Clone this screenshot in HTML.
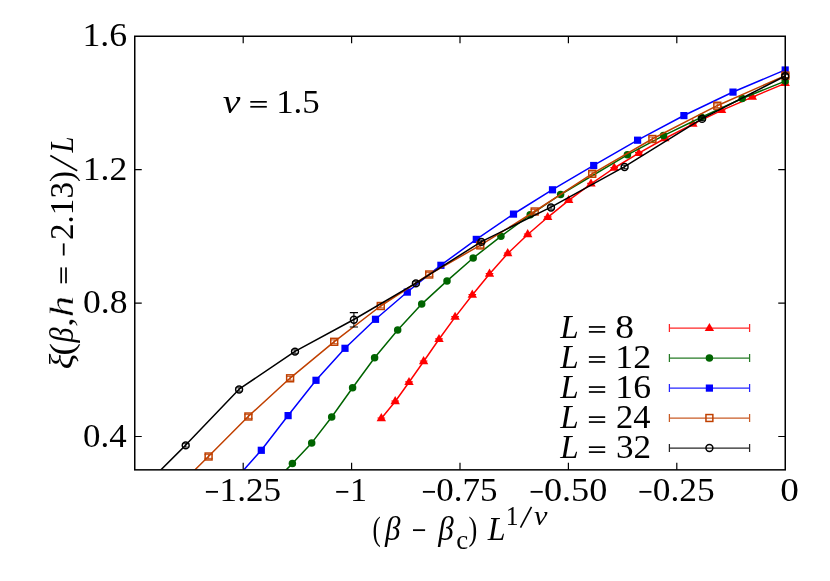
<!DOCTYPE html>
<html><head><meta charset="utf-8"><title>Finite-size scaling</title>
<style>
html,body{margin:0;padding:0;background:#fff;}
svg{display:block;}
text{font-family:"Liberation Serif",serif;fill:#000;}
.i{font-style:italic;}
</style></head><body>
<svg width="830" height="581" viewBox="0 0 830 581">
<rect x="0" y="0" width="830" height="581" fill="#ffffff"/>
<defs><clipPath id="plot"><rect x="134.75" y="36.25" width="656.5" height="433.6"/></clipPath></defs>
<path d="M676.8,469.85 v-7 M676.8,36.25 v7 M568.4,469.85 v-7 M568.4,36.25 v7 M460.0,469.85 v-7 M460.0,36.25 v7 M351.6,469.85 v-7 M351.6,36.25 v7 M243.2,469.85 v-7 M243.2,36.25 v7 M134.75,436.5 h7 M785.25,436.5 h-7 M134.75,303.1 h7 M785.25,303.1 h-7 M134.75,169.7 h7 M785.25,169.7 h-7" stroke="#000" stroke-width="1.2" fill="none"/>
<g clip-path="url(#plot)">
<polyline points="381.3,418.5 395.2,401.5 409.0,382.3 423.6,361.5 439.0,339.3 455.1,317.1 472.3,295.0 489.5,274.0 507.7,253.5 527.7,234.5 547.7,217.3 568.7,200.3 591.0,183.9 614.2,168.0 638.8,153.2 664.8,138.5 692.9,124.1 721.6,110.4 752.3,97.1 785.2,83.4" fill="none" stroke="#ff0000" stroke-width="1.5" stroke-linejoin="round"/>
<path d="M376.6,421.2 L386.0,421.2 L381.3,413.1 Z" fill="#ff0000"/><path d="M377.5,418.0 h7.6" stroke="#ff0000" stroke-width="1.2" fill="none"/>
<path d="M390.5,404.2 L399.9,404.2 L395.2,396.1 Z" fill="#ff0000"/><path d="M391.4,401.0 h7.6" stroke="#ff0000" stroke-width="1.2" fill="none"/>
<path d="M404.3,385.0 L413.7,385.0 L409.0,376.9 Z" fill="#ff0000"/><path d="M405.2,381.8 h7.6" stroke="#ff0000" stroke-width="1.2" fill="none"/>
<path d="M418.9,364.2 L428.3,364.2 L423.6,356.1 Z" fill="#ff0000"/><path d="M419.8,361.0 h7.6" stroke="#ff0000" stroke-width="1.2" fill="none"/>
<path d="M434.3,342.0 L443.7,342.0 L439.0,333.9 Z" fill="#ff0000"/><path d="M435.2,338.8 h7.6" stroke="#ff0000" stroke-width="1.2" fill="none"/>
<path d="M450.4,319.8 L459.8,319.8 L455.1,311.7 Z" fill="#ff0000"/><path d="M451.3,316.6 h7.6" stroke="#ff0000" stroke-width="1.2" fill="none"/>
<path d="M467.6,297.7 L477.0,297.7 L472.3,289.6 Z" fill="#ff0000"/><path d="M468.5,294.5 h7.6" stroke="#ff0000" stroke-width="1.2" fill="none"/>
<path d="M484.8,276.7 L494.2,276.7 L489.5,268.6 Z" fill="#ff0000"/><path d="M485.7,273.5 h7.6" stroke="#ff0000" stroke-width="1.2" fill="none"/>
<path d="M503.0,256.2 L512.4,256.2 L507.7,248.1 Z" fill="#ff0000"/><path d="M503.9,253.0 h7.6" stroke="#ff0000" stroke-width="1.2" fill="none"/>
<path d="M523.0,237.2 L532.4,237.2 L527.7,229.1 Z" fill="#ff0000"/><path d="M523.9,234.0 h7.6" stroke="#ff0000" stroke-width="1.2" fill="none"/>
<path d="M543.0,220.0 L552.4,220.0 L547.7,211.9 Z" fill="#ff0000"/><path d="M543.9,216.8 h7.6" stroke="#ff0000" stroke-width="1.2" fill="none"/>
<path d="M564.0,203.0 L573.4,203.0 L568.7,194.9 Z" fill="#ff0000"/><path d="M564.9,199.8 h7.6" stroke="#ff0000" stroke-width="1.2" fill="none"/>
<path d="M586.3,186.6 L595.7,186.6 L591.0,178.5 Z" fill="#ff0000"/><path d="M587.2,183.4 h7.6" stroke="#ff0000" stroke-width="1.2" fill="none"/>
<path d="M609.5,170.7 L618.9,170.7 L614.2,162.6 Z" fill="#ff0000"/><path d="M610.4,167.5 h7.6" stroke="#ff0000" stroke-width="1.2" fill="none"/>
<path d="M634.1,155.9 L643.5,155.9 L638.8,147.8 Z" fill="#ff0000"/><path d="M635.0,152.7 h7.6" stroke="#ff0000" stroke-width="1.2" fill="none"/>
<path d="M660.1,141.2 L669.5,141.2 L664.8,133.1 Z" fill="#ff0000"/><path d="M661.0,138.0 h7.6" stroke="#ff0000" stroke-width="1.2" fill="none"/>
<path d="M688.2,126.8 L697.6,126.8 L692.9,118.7 Z" fill="#ff0000"/><path d="M689.1,123.6 h7.6" stroke="#ff0000" stroke-width="1.2" fill="none"/>
<path d="M716.9,113.1 L726.3,113.1 L721.6,105.0 Z" fill="#ff0000"/><path d="M717.8,109.9 h7.6" stroke="#ff0000" stroke-width="1.2" fill="none"/>
<path d="M747.6,99.8 L757.0,99.8 L752.3,91.7 Z" fill="#ff0000"/><path d="M748.5,96.6 h7.6" stroke="#ff0000" stroke-width="1.2" fill="none"/>
<path d="M780.5,86.1 L789.9,86.1 L785.2,78.0 Z" fill="#ff0000"/><path d="M781.4,82.9 h7.6" stroke="#ff0000" stroke-width="1.2" fill="none"/>
<polyline points="275.0,481.0 292.4,463.6 311.7,442.9 331.7,417.0 352.6,387.7 374.6,357.8 397.7,330.0 421.7,304.1 447.0,280.9 473.2,258.0 500.9,236.3 530.2,214.8 560.6,194.5 627.4,154.8 663.5,135.6 701.5,117.2 742.2,98.5 785.2,81.1" fill="none" stroke="#006400" stroke-width="1.5" stroke-linejoin="round"/>
<circle cx="292.4" cy="463.6" r="3.75" fill="#006400"/>
<circle cx="311.7" cy="442.9" r="3.75" fill="#006400"/>
<circle cx="331.7" cy="417.0" r="3.75" fill="#006400"/>
<circle cx="352.6" cy="387.7" r="3.75" fill="#006400"/>
<circle cx="374.6" cy="357.8" r="3.75" fill="#006400"/>
<circle cx="397.7" cy="330.0" r="3.75" fill="#006400"/>
<circle cx="421.7" cy="304.1" r="3.75" fill="#006400"/>
<circle cx="447.0" cy="280.9" r="3.75" fill="#006400"/>
<circle cx="473.2" cy="258.0" r="3.75" fill="#006400"/>
<circle cx="500.9" cy="236.3" r="3.75" fill="#006400"/>
<circle cx="530.2" cy="214.8" r="3.75" fill="#006400"/>
<circle cx="560.6" cy="194.5" r="3.75" fill="#006400"/>
<circle cx="627.4" cy="154.8" r="3.75" fill="#006400"/>
<circle cx="663.5" cy="135.6" r="3.75" fill="#006400"/>
<circle cx="701.5" cy="117.2" r="3.75" fill="#006400"/>
<circle cx="742.2" cy="98.5" r="3.75" fill="#006400"/>
<circle cx="785.2" cy="81.1" r="3.75" fill="#006400"/>
<polyline points="235.0,479.8 261.3,450.2 288.1,415.5 316.0,380.2 345.0,348.2 375.5,319.2 407.3,292.0 440.9,265.2 476.3,239.3 513.5,214.0 552.5,189.7 593.7,165.4 637.6,140.1 683.9,115.5 733.0,92.0 785.2,69.9" fill="none" stroke="#0000ff" stroke-width="1.5" stroke-linejoin="round"/>
<rect x="257.7" y="446.7" width="7.2" height="7.2" fill="#0000ff"/>
<rect x="284.5" y="412.0" width="7.2" height="7.2" fill="#0000ff"/>
<rect x="312.4" y="376.7" width="7.2" height="7.2" fill="#0000ff"/>
<rect x="341.4" y="344.7" width="7.2" height="7.2" fill="#0000ff"/>
<rect x="371.9" y="315.7" width="7.2" height="7.2" fill="#0000ff"/>
<rect x="403.7" y="288.5" width="7.2" height="7.2" fill="#0000ff"/>
<rect x="437.3" y="261.7" width="7.2" height="7.2" fill="#0000ff"/>
<rect x="472.7" y="235.8" width="7.2" height="7.2" fill="#0000ff"/>
<rect x="509.9" y="210.5" width="7.2" height="7.2" fill="#0000ff"/>
<rect x="548.9" y="186.2" width="7.2" height="7.2" fill="#0000ff"/>
<rect x="590.1" y="161.9" width="7.2" height="7.2" fill="#0000ff"/>
<rect x="634.0" y="136.6" width="7.2" height="7.2" fill="#0000ff"/>
<rect x="680.3" y="112.0" width="7.2" height="7.2" fill="#0000ff"/>
<rect x="729.4" y="88.5" width="7.2" height="7.2" fill="#0000ff"/>
<rect x="781.6" y="66.4" width="7.2" height="7.2" fill="#0000ff"/>
<polyline points="170.0,494.6 208.4,456.5 248.2,416.5 289.9,378.3 334.0,341.8 380.6,306.0 429.0,274.5 480.1,245.4 534.5,211.5 592.0,173.8 652.2,139.0 717.1,105.7 785.2,75.6" fill="none" stroke="#c04000" stroke-width="1.5" stroke-linejoin="round"/>
<rect x="205.15" y="453.05" width="6.9" height="6.9" fill="none" stroke="#c04000" stroke-width="1.5"/><path d="M208.6,454.5 v4 M204.5,454.6 h8.2 M204.5,458.4 h8.2" stroke="#c04000" stroke-width="1" fill="none" opacity="0.85"/>
<rect x="244.95" y="413.05" width="6.9" height="6.9" fill="none" stroke="#c04000" stroke-width="1.5"/><path d="M248.4,414.5 v4 M244.3,414.6 h8.2 M244.3,418.4 h8.2" stroke="#c04000" stroke-width="1" fill="none" opacity="0.85"/>
<rect x="286.65" y="374.85" width="6.9" height="6.9" fill="none" stroke="#c04000" stroke-width="1.5"/><path d="M290.1,376.3 v4 M286.0,376.4 h8.2 M286.0,380.2 h8.2" stroke="#c04000" stroke-width="1" fill="none" opacity="0.85"/>
<rect x="330.75" y="338.35" width="6.9" height="6.9" fill="none" stroke="#c04000" stroke-width="1.5"/><path d="M334.2,339.8 v4 M330.1,339.9 h8.2 M330.1,343.7 h8.2" stroke="#c04000" stroke-width="1" fill="none" opacity="0.85"/>
<rect x="377.35" y="302.55" width="6.9" height="6.9" fill="none" stroke="#c04000" stroke-width="1.5"/><path d="M380.8,304.0 v4 M376.7,304.1 h8.2 M376.7,307.9 h8.2" stroke="#c04000" stroke-width="1" fill="none" opacity="0.85"/>
<rect x="425.75" y="271.05" width="6.9" height="6.9" fill="none" stroke="#c04000" stroke-width="1.5"/><path d="M429.2,272.5 v4 M425.1,272.6 h8.2 M425.1,276.4 h8.2" stroke="#c04000" stroke-width="1" fill="none" opacity="0.85"/>
<rect x="476.85" y="241.95" width="6.9" height="6.9" fill="none" stroke="#c04000" stroke-width="1.5"/><path d="M480.3,243.4 v4 M476.2,243.5 h8.2 M476.2,247.3 h8.2" stroke="#c04000" stroke-width="1" fill="none" opacity="0.85"/>
<rect x="531.25" y="208.05" width="6.9" height="6.9" fill="none" stroke="#c04000" stroke-width="1.5"/><path d="M534.7,209.5 v4 M530.6,209.6 h8.2 M530.6,213.4 h8.2" stroke="#c04000" stroke-width="1" fill="none" opacity="0.85"/>
<rect x="588.75" y="170.35" width="6.9" height="6.9" fill="none" stroke="#c04000" stroke-width="1.5"/><path d="M592.2,171.8 v4 M588.1,171.9 h8.2 M588.1,175.7 h8.2" stroke="#c04000" stroke-width="1" fill="none" opacity="0.85"/>
<rect x="648.95" y="135.55" width="6.9" height="6.9" fill="none" stroke="#c04000" stroke-width="1.5"/><path d="M652.4,137.0 v4 M648.3,137.1 h8.2 M648.3,140.9 h8.2" stroke="#c04000" stroke-width="1" fill="none" opacity="0.85"/>
<rect x="713.85" y="102.25" width="6.9" height="6.9" fill="none" stroke="#c04000" stroke-width="1.5"/><path d="M717.3,103.7 v4 M713.2,103.8 h8.2 M713.2,107.6 h8.2" stroke="#c04000" stroke-width="1" fill="none" opacity="0.85"/>
<rect x="781.95" y="72.15" width="6.9" height="6.9" fill="none" stroke="#c04000" stroke-width="1.5"/><path d="M785.4,73.6 v4 M781.3,73.7 h8.2 M781.3,77.5 h8.2" stroke="#c04000" stroke-width="1" fill="none" opacity="0.85"/>
<polyline points="134.7,496.0 185.7,445.1 239.1,389.2 295.0,351.3 353.9,319.5 415.9,283.1 481.4,241.6 551.0,207.2 624.6,166.7 702.1,118.6 785.2,76.0" fill="none" stroke="#000000" stroke-width="1.5" stroke-linejoin="round"/>
<circle cx="185.7" cy="445.4" r="3.45" fill="none" stroke="#000000" stroke-width="1.5"/><path d="M185.7,443.6 v3.6 M182.1,443.7 h7.2 M182.1,447.1 h7.2" stroke="#000000" stroke-width="1" fill="none" opacity="0.85"/>
<circle cx="239.1" cy="389.5" r="3.45" fill="none" stroke="#000000" stroke-width="1.5"/><path d="M239.1,387.7 v3.6 M235.5,387.8 h7.2 M235.5,391.2 h7.2" stroke="#000000" stroke-width="1" fill="none" opacity="0.85"/>
<circle cx="295.0" cy="351.6" r="3.45" fill="none" stroke="#000000" stroke-width="1.5"/><path d="M295.0,349.8 v3.6 M291.4,349.9 h7.2 M291.4,353.3 h7.2" stroke="#000000" stroke-width="1" fill="none" opacity="0.85"/>
<circle cx="353.9" cy="319.8" r="3.45" fill="none" stroke="#000000" stroke-width="1.5"/><path d="M353.9,312.6 V327.0 M349.8,312.6 h8.2 M349.8,327.0 h8.2" stroke="#000000" stroke-width="1.1" fill="none"/>
<circle cx="415.9" cy="283.4" r="3.45" fill="none" stroke="#000000" stroke-width="1.5"/><path d="M415.9,281.6 v3.6 M412.3,281.7 h7.2 M412.3,285.1 h7.2" stroke="#000000" stroke-width="1" fill="none" opacity="0.85"/>
<circle cx="481.4" cy="241.9" r="3.45" fill="none" stroke="#000000" stroke-width="1.5"/><path d="M481.4,240.1 v3.6 M477.8,240.2 h7.2 M477.8,243.6 h7.2" stroke="#000000" stroke-width="1" fill="none" opacity="0.85"/>
<circle cx="551.0" cy="207.5" r="3.45" fill="none" stroke="#000000" stroke-width="1.5"/><path d="M551.0,205.7 v3.6 M547.4,205.8 h7.2 M547.4,209.2 h7.2" stroke="#000000" stroke-width="1" fill="none" opacity="0.85"/>
<circle cx="624.6" cy="167.0" r="3.45" fill="none" stroke="#000000" stroke-width="1.5"/><path d="M624.6,165.2 v3.6 M621.0,165.3 h7.2 M621.0,168.7 h7.2" stroke="#000000" stroke-width="1" fill="none" opacity="0.85"/>
<circle cx="702.1" cy="118.9" r="3.45" fill="none" stroke="#000000" stroke-width="1.5"/><path d="M702.1,117.1 v3.6 M698.5,117.2 h7.2 M698.5,120.6 h7.2" stroke="#000000" stroke-width="1" fill="none" opacity="0.85"/>
<circle cx="785.2" cy="76.3" r="3.45" fill="none" stroke="#000000" stroke-width="1.5"/><path d="M785.2,74.5 v3.6 M781.6,74.6 h7.2 M781.6,78.0 h7.2" stroke="#000000" stroke-width="1" fill="none" opacity="0.85"/>
</g>
<rect x="134.75" y="36.25" width="650.5" height="433.6" fill="none" stroke="#000" stroke-width="1.5"/>
<g opacity="0.999">
<text transform="translate(82.45,46.20) scale(1.085,1)" font-size="33">1.6</text>
<text transform="translate(82.76,180.07) scale(1.079,1)" font-size="33">1.2</text>
<text transform="translate(82.95,313.48) scale(1.079,1)" font-size="33">0.8</text>
<text transform="translate(82.98,446.90) scale(1.058,1)" font-size="33">0.4</text>
<text transform="translate(219.61,501.30) scale(1.064,1)" font-size="33">1.25</text>
<text transform="translate(350.10,501.30) scale(1.035,1)" font-size="33">1</text>
<text transform="translate(436.17,501.30) scale(1.061,1)" font-size="33">0.75</text>
<text transform="translate(543.93,501.30) scale(1.099,1)" font-size="33">0.50</text>
<text transform="translate(652.76,501.30) scale(1.073,1)" font-size="33">0.25</text>
<text transform="translate(780.29,501.30) scale(1.129,1)" font-size="33">0</text>
<text class="i" transform="translate(222.70,112.70) scale(1.207,1)" font-size="33">ν</text>
<text transform="translate(276.13,112.70) scale(1.057,1)" font-size="33">1.5</text>
<text class="i" transform="translate(560.35,337.80) scale(1.006,1)" font-size="33">L</text>
<text transform="translate(615.18,337.80) scale(1.136,1)" font-size="33">8</text>
<text class="i" transform="translate(560.35,367.85) scale(1.006,1)" font-size="33">L</text>
<text transform="translate(615.33,367.85) scale(1.090,1)" font-size="33">12</text>
<text class="i" transform="translate(560.35,397.90) scale(1.006,1)" font-size="33">L</text>
<text transform="translate(615.35,397.90) scale(1.083,1)" font-size="33">16</text>
<text class="i" transform="translate(560.35,427.95) scale(1.006,1)" font-size="33">L</text>
<text transform="translate(616.03,427.95) scale(1.045,1)" font-size="33">24</text>
<text class="i" transform="translate(560.35,458.00) scale(1.006,1)" font-size="33">L</text>
<text transform="translate(616.00,458.00) scale(1.066,1)" font-size="33">32</text>
<text transform="translate(372.57,539.60) scale(0.750,1)" font-size="33">(</text>
<text class="i" transform="translate(384.97,539.60) scale(0.941,1)" font-size="33">β</text>
<text class="i" transform="translate(438.27,539.60) scale(0.941,1)" font-size="33">β</text>
<text transform="translate(456.14,549.00) scale(0.962,1)" font-size="28">c</text>
<text transform="translate(468.40,539.60) scale(0.800,1)" font-size="33">)</text>
<text class="i" transform="translate(487.74,539.60) scale(0.971,1)" font-size="33">L</text>
<text transform="translate(505.63,524.60) scale(0.947,1)" font-size="27">1</text>
<text class="i" transform="translate(533.96,524.80) scale(1.083,1)" font-size="28">ν</text>
<text class="i" transform="translate(73.30,367.80) rotate(-90) translate(-1.36,0) scale(1.090,1)" font-size="33">ξ</text>
<text transform="translate(73.30,367.80) rotate(-90) translate(12.15,0) scale(1.165,1)" font-size="33">(</text>
<text class="i" transform="translate(73.30,367.80) rotate(-90) translate(25.26,0) scale(0.912,1)" font-size="33">β</text>
<text transform="translate(73.30,367.80) rotate(-90) translate(40.33,0) scale(1.300,1)" font-size="33" stroke="#fff" stroke-width="0.3">,</text>
<text class="i" transform="translate(73.30,367.80) rotate(-90) translate(50.44,0) scale(1.300,1)" font-size="33" stroke="#fff" stroke-width="0.3">h</text>
<text transform="translate(73.30,367.80) rotate(-90) translate(127.79,0) scale(1.005,1)" font-size="33">2.13)</text>
<text class="i" transform="translate(73.30,367.80) rotate(-90) translate(215.32,0) scale(0.871,1)" font-size="33">L</text>
</g>
<rect x="205.90" y="490.95" width="12.10" height="1.8" fill="#000"/>
<rect x="336.20" y="490.95" width="12.10" height="1.8" fill="#000"/>
<rect x="422.90" y="490.95" width="12.10" height="1.8" fill="#000"/>
<rect x="530.60" y="490.95" width="12.10" height="1.8" fill="#000"/>
<rect x="639.40" y="490.95" width="12.10" height="1.8" fill="#000"/>
<rect x="250.30" y="101.00" width="16.50" height="1.7" fill="#000"/>
<rect x="250.30" y="105.95" width="16.50" height="1.7" fill="#000"/>
<rect x="588.90" y="326.10" width="16.30" height="1.7" fill="#000"/>
<rect x="588.90" y="331.05" width="16.30" height="1.7" fill="#000"/>
<rect x="588.90" y="356.15" width="16.30" height="1.7" fill="#000"/>
<rect x="588.90" y="361.10" width="16.30" height="1.7" fill="#000"/>
<rect x="588.90" y="386.20" width="16.30" height="1.7" fill="#000"/>
<rect x="588.90" y="391.15" width="16.30" height="1.7" fill="#000"/>
<rect x="588.90" y="416.25" width="16.30" height="1.7" fill="#000"/>
<rect x="588.90" y="421.20" width="16.30" height="1.7" fill="#000"/>
<rect x="588.90" y="446.30" width="16.30" height="1.7" fill="#000"/>
<rect x="588.90" y="451.25" width="16.30" height="1.7" fill="#000"/>
<rect x="413.00" y="529.25" width="12.10" height="1.8" fill="#000"/>
<rect x="60.35" y="267.4" width="1.7" height="15.9" fill="#000"/>
<rect x="65.15" y="267.4" width="1.7" height="15.9" fill="#000"/>
<rect x="62.8" y="243.4" width="1.8" height="12.1" fill="#000"/>
<path d="M77.2,170.7 L50.3,155.4" stroke="#000" stroke-width="1.7" fill="none"/>
<path d="M520.5,527.6 L531.5,506.8" stroke="#000" stroke-width="1.6" fill="none"/>
<path d="M669.4,328.00 H749.6 M669.4,324.10 v7.8 M749.6,324.10 v7.8" stroke="#ff0000" stroke-width="1.25" fill="none" opacity="0.85"/>
<path d="M704.7,331.0 L714.1,331.0 L709.4,322.9 Z" fill="#ff0000"/>
<path d="M669.4,358.00 H749.6 M669.4,354.10 v7.8 M749.6,354.10 v7.8" stroke="#006400" stroke-width="1.25" fill="none" opacity="0.85"/>
<circle cx="709.4" cy="358.0" r="3.75" fill="#006400"/>
<path d="M669.4,388.00 H749.6 M669.4,384.10 v7.8 M749.6,384.10 v7.8" stroke="#0000ff" stroke-width="1.25" fill="none" opacity="0.85"/>
<rect x="705.8" y="384.5" width="7.2" height="7.2" fill="#0000ff"/>
<path d="M669.4,418.00 H749.6 M669.4,414.10 v7.8 M749.6,414.10 v7.8" stroke="#c04000" stroke-width="1.25" fill="none" opacity="0.85"/>
<rect x="705.95" y="414.55" width="6.9" height="6.9" fill="none" stroke="#c04000" stroke-width="1.5"/>
<path d="M669.4,448.00 H749.6 M669.4,444.10 v7.8 M749.6,444.10 v7.8" stroke="#000000" stroke-width="1.25" fill="none" opacity="0.85"/>
<circle cx="709.4" cy="448.0" r="3.45" fill="none" stroke="#000000" stroke-width="1.5"/>
</svg></body></html>
